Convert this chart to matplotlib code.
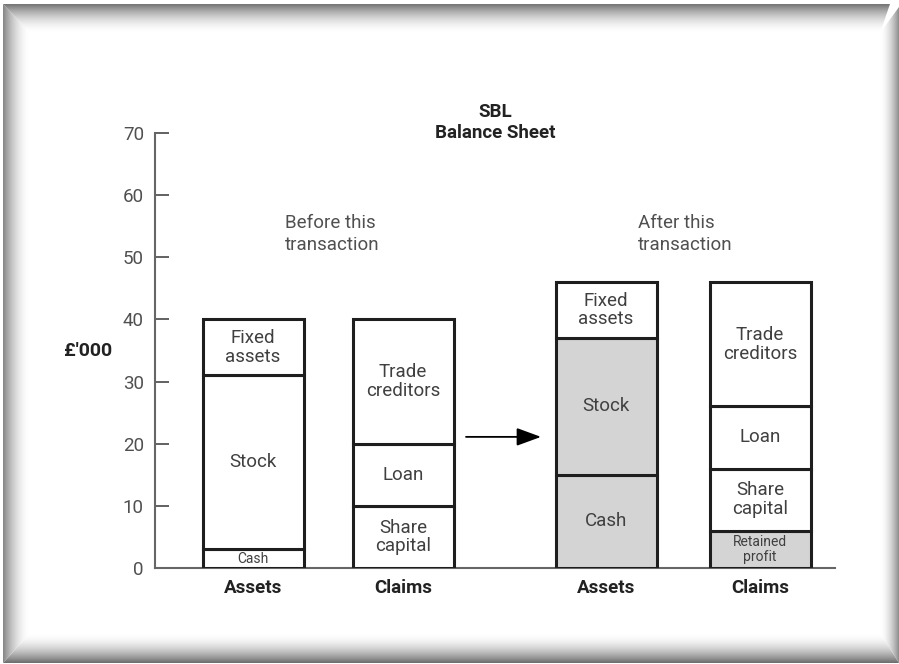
import numpy as np
import matplotlib.pyplot as plt
from matplotlib.patches import Polygon

plt.rcParams['font.family'] = ['Roboto', 'DejaVu Sans']

# stacked segments, bottom to top (£'000)
before_assets = [3, 28, 9]
before_assets_lbl = ['Cash', 'Stock', 'Fixed\nassets']
before_claims = [10, 10, 20]
before_claims_lbl = ['Share\ncapital', 'Loan', 'Trade\ncreditors']
after_assets = [15, 22, 9]
after_assets_lbl = ['Cash', 'Stock', 'Fixed\nassets']
after_claims = [6, 10, 10, 20]
after_claims_lbl = ['Retained\nprofit', 'Share\ncapital', 'Loan', 'Trade\ncreditors']
# which segments are shaded (changed by the transaction)
after_assets_grey = [True, True, False]
after_claims_grey = [True, False, False, False]

xlabels = ['Assets', 'Claims', 'Assets', 'Claims']
yticks = [0, 10, 20, 30, 40, 50, 60, 70]

W, H = 899, 664
fig = plt.figure(figsize=(W / 100, H / 100), dpi=100)

# ---- bevelled grey frame ----
bg = fig.add_axes([0, 0, 1, 1])
bg.set_xlim(0, W)
bg.set_ylim(H, 0)
bg.axis('off')


def band(poly, direction, c_out, outer_first):
    t = np.linspace(0, 1, 256)
    g = 1.0 - (1.0 - c_out) * (1 - t) ** 1.8
    if not outer_first:
        g = g[::-1]
    img = g[:, None] if direction == 'v' else g[None, :]
    xs = [p[0] for p in poly]
    ys = [p[1] for p in poly]
    im = bg.imshow(img, cmap='gray', vmin=0, vmax=1, aspect='auto',
                   extent=[min(xs), max(xs), max(ys), min(ys)], interpolation='bilinear')
    pp = Polygon(poly, closed=True, transform=bg.transData, facecolor='none', edgecolor='none')
    bg.add_patch(pp)
    im.set_clip_path(pp)


band([(3, 4), (890, 4), (880, 33), (30, 33)], 'v', 0.45, True)
band([(3, 663), (30, 633), (880, 633), (899, 663)], 'v', 0.42, False)
band([(3, 4), (30, 33), (30, 633), (3, 663)], 'h', 0.52, True)
band([(899, 7), (880, 33), (880, 633), (899, 663)], 'h', 0.55, False)

# ---- chart ----
ax = fig.add_axes([155 / W, 1 - 568 / H, 680 / W, 435 / H])
ax.set_xlim(0, 6.8)
ax.set_ylim(0, 70)
ax.patch.set_alpha(0)

pos = [0.98, 2.48, 4.51, 6.05]
bw = 1.01
edge = '#1e1e1e'
grey = '#d4d4d4'
txt = '#404040'

stacks = [
    (before_assets, before_assets_lbl, [False] * 3),
    (before_claims, before_claims_lbl, [False] * 3),
    (after_assets, after_assets_lbl, after_assets_grey),
    (after_claims, after_claims_lbl, after_claims_grey),
]
for x, (vals, lbls, shade) in zip(pos, stacks):
    bottom = 0
    for v, lb, s in zip(vals, lbls, shade):
        ax.bar(x, v, bottom=bottom, width=bw, color=grey if s else 'white',
               edgecolor=edge, linewidth=2.2, zorder=3)
        small = (lb == 'Cash' and v < 5) or lb.startswith('Retained')
        ax.text(x, bottom + v / 2, lb, ha='center', va='center',
                fontsize=10 if small else 13.5, color=txt, linespacing=1.05, zorder=4)
        bottom += v

ax.set_xticks(pos)
ax.set_xticklabels(xlabels, fontsize=13.5, fontweight='bold', color='#222222')
ax.set_yticks(yticks)
ax.set_yticklabels([str(t) for t in yticks], fontsize=13.5, color='#505050')
ax.tick_params(axis='y', direction='in', length=10, width=1.3, color='#555555', pad=8)
ax.tick_params(axis='x', length=0, pad=8)
for s in ['top', 'right']:
    ax.spines[s].set_visible(False)
for s in ['left', 'bottom']:
    ax.spines[s].set_color('#666666')
    ax.spines[s].set_linewidth(1.5)

ax.annotate('', xy=(3.86, 21.1), xytext=(3.11, 21.1),
            arrowprops=dict(arrowstyle='-|>,head_length=1.5,head_width=0.55',
                            color='black', lw=1.3, shrinkA=0, shrinkB=0))

ax.text(1.3, 53.8, 'Before this\ntransaction', ha='left', va='center', fontsize=13.5,
        color='#505050', linespacing=1.3)
ax.text(4.83, 53.8, 'After this\ntransaction', ha='left', va='center', fontsize=13.5,
        color='#505050', linespacing=1.3)

fig.text(495 / W, 1 - 112 / H, 'SBL', ha='center', va='center', fontsize=13.5,
         fontweight='bold', color='#222222')
fig.text(495 / W, 1 - 133 / H, 'Balance Sheet', ha='center', va='center', fontsize=13.5,
         fontweight='bold', color='#222222')
fig.text(88 / W, 1 - 351 / H, "£'000", ha='center', va='center', fontsize=14,
         fontweight='bold', color='#222222')

plt.savefig('out.png', dpi=100)
